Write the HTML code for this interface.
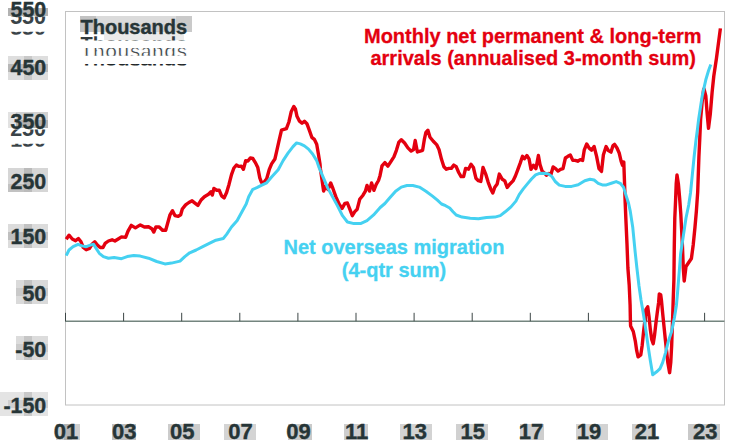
<!DOCTYPE html>
<html><head><meta charset="utf-8"><title>Net migration chart</title>
<style>
html,body{margin:0;padding:0;background:#fff;}
body{width:732px;height:445px;overflow:hidden;position:relative;font-family:"Liberation Sans",Arial,sans-serif;}
svg{position:absolute;left:0;top:0;display:block;}
text{font-family:"Liberation Sans",Arial,sans-serif;font-weight:bold;}
</style></head><body>
<svg width="732" height="445" viewBox="0 0 732 445">
<defs>
<clipPath id="c1"><rect x="0" y="16.6" width="60" height="7.6"/></clipPath>
<clipPath id="c2"><rect x="0" y="31.8" width="60" height="3"/></clipPath>
<clipPath id="c3"><rect x="0" y="129.4" width="60" height="7"/></clipPath>
<clipPath id="c4"><rect x="0" y="143.8" width="60" height="3"/></clipPath>
<clipPath id="t1"><rect x="70" y="36.3" width="130" height="4.3"/></clipPath>
<clipPath id="t2"><rect x="70" y="48" width="130" height="7.7"/></clipPath>
<clipPath id="t3"><rect x="70" y="63.9" width="130" height="1.7"/></clipPath>
</defs>
<rect x="0" y="0" width="732" height="445" fill="#fff"/>
<g opacity="0.8"><rect x="8" y="8" width="40" height="8" fill="#a0a0a0"/><rect x="8" y="56" width="40" height="24" fill="#d6d6d6"/><rect x="24" y="56" width="8" height="24" fill="#bcbcbc"/><rect x="8" y="64" width="40" height="8" fill="#a6a6a6"/><rect x="8" y="112" width="8" height="16" fill="#dcdcdc"/><rect x="16" y="112" width="32" height="8" fill="#c6c6c6"/><rect x="16" y="120" width="32" height="8" fill="#a0a0a0"/><rect x="8" y="168" width="40" height="24" fill="#cccccc"/><rect x="24" y="168" width="8" height="24" fill="#ababab"/><rect x="8" y="184" width="16" height="8" fill="#b4b4b4"/><rect x="8" y="224" width="40" height="24" fill="#d4d4d4"/><rect x="24" y="224" width="8" height="24" fill="#b4b4b4"/><rect x="8" y="232" width="40" height="8" fill="#b0b0b0"/><rect x="16" y="280" width="32" height="24" fill="#d2d2d2"/><rect x="24" y="280" width="8" height="24" fill="#b4b4b4"/><rect x="16" y="288" width="32" height="8" fill="#bcbcbc"/><rect x="16" y="336" width="32" height="24" fill="#d4d4d4"/><rect x="24" y="336" width="8" height="24" fill="#b8b8b8"/><rect x="16" y="344" width="32" height="8" fill="#c0c0c0"/><rect x="0" y="392" width="48" height="24" fill="#dedede"/><rect x="24" y="392" width="8" height="24" fill="#bcbcbc"/><rect x="8" y="400" width="40" height="8" fill="#c4c4c4"/><rect x="104" y="32" width="80" height="8" fill="#e6e6e6"/><rect x="80" y="16" width="112" height="16" fill="#d3d3d3"/><rect x="80" y="16" width="16" height="16" fill="#b4b4b4"/><rect x="176" y="16" width="16" height="16" fill="#bdbdbd"/><rect x="96" y="24" width="80" height="8" fill="#c4c4c4"/><rect x="56" y="424" width="24" height="16" fill="#c4c4c4"/><rect x="64" y="424" width="8" height="16" fill="#a2a2a2"/><rect x="112" y="424" width="24" height="16" fill="#b2b2b2"/><rect x="168" y="424" width="32" height="16" fill="#c0c0c0"/><rect x="224" y="424" width="32" height="16" fill="#cacaca"/><rect x="288" y="424" width="24" height="16" fill="#bdbdbd"/><rect x="344" y="424" width="24" height="16" fill="#c3c3c3"/><rect x="400" y="424" width="32" height="16" fill="#c9c9c9"/><rect x="456" y="424" width="32" height="16" fill="#c6c6c6"/><rect x="520" y="424" width="24" height="16" fill="#c3c3c3"/><rect x="576" y="424" width="32" height="16" fill="#c9c9c9"/><rect x="632" y="424" width="24" height="16" fill="#c3c3c3"/><rect x="688" y="424" width="32" height="16" fill="#bcbcbc"/></g>
<rect x="65.5" y="11.5" width="659" height="393.5" fill="none" stroke="#c2c2c2" stroke-width="1"/>
<line x1="65" y1="321.2" x2="724.5" y2="321.2" stroke="#74857f" stroke-width="1.5"/>
<g stroke="#3c4646" stroke-width="1"><line x1="65.5" y1="312.8" x2="65.5" y2="321.2"/><line x1="123.6" y1="312.8" x2="123.6" y2="321.2"/><line x1="181.7" y1="312.8" x2="181.7" y2="321.2"/><line x1="239.8" y1="312.8" x2="239.8" y2="321.2"/><line x1="297.9" y1="312.8" x2="297.9" y2="321.2"/><line x1="356.0" y1="312.8" x2="356.0" y2="321.2"/><line x1="414.1" y1="312.8" x2="414.1" y2="321.2"/><line x1="472.2" y1="312.8" x2="472.2" y2="321.2"/><line x1="530.3" y1="312.8" x2="530.3" y2="321.2"/><line x1="588.4" y1="312.8" x2="588.4" y2="321.2"/><line x1="646.5" y1="312.8" x2="646.5" y2="321.2"/><line x1="704.6" y1="312.8" x2="704.6" y2="321.2"/></g>
<polyline fill="none" stroke="#e4000f" stroke-width="3.4" stroke-linejoin="round" stroke-linecap="butt" points="66.2,239.3 69.0,235.2 72.3,239.0 75.6,240.7 78.4,238.5 81.0,241.8 83.3,247.5 86.2,249.7 89.5,248.4 92.0,244.3 94.8,241.8 97.4,245.1 100.2,247.5 103.0,247.5 105.1,243.4 108.4,241.0 112.1,239.8 114.9,241.0 118.2,239.0 121.5,236.9 125.6,237.4 128.0,231.1 131.3,225.4 135.4,227.9 140.3,224.9 144.4,227.0 148.5,226.7 151.8,228.7 153.8,232.0 155.9,227.0 159.2,227.0 162.5,230.3 165.7,230.3 168.2,221.3 170.0,214.8 172.5,210.7 174.9,215.6 178.2,216.4 180.7,214.8 182.3,209.0 185.6,204.9 188.9,202.5 192.1,200.8 194.6,202.8 197.9,205.4 201.1,200.0 204.4,196.7 208.5,194.3 211.0,191.8 212.3,195.1 213.9,188.5 216.7,190.2 219.2,190.2 221.6,195.9 224.1,197.9 226.6,192.6 229.0,184.4 231.5,174.6 233.9,168.0 236.4,165.1 238.9,166.4 241.3,166.1 243.4,169.3 245.7,160.7 247.9,161.1 250.3,157.9 252.8,158.5 255.2,162.3 257.7,167.2 259.8,177.9 261.5,182.5 263.8,182.5 266.7,178.7 269.2,169.7 271.6,163.9 274.9,159.0 276.6,151.6 279.0,140.9 281.5,130.2 283.9,129.4 286.4,128.6 288.9,122.0 291.3,111.4 293.8,106.5 295.4,108.9 297.0,116.3 299.5,121.2 302.0,123.2 304.4,121.2 306.9,123.7 309.3,130.2 311.8,137.3 314.3,139.3 316.7,144.2 318.4,154.0 320.0,163.9 320.3,168.2 322.0,179.7 323.6,191.1 325.7,186.2 328.0,189.5 330.7,183.0 333.0,188.7 335.9,196.9 339.2,204.3 342.1,208.4 344.9,203.4 347.4,203.0 349.8,209.2 352.3,215.7 354.8,211.6 357.2,209.2 359.7,199.3 363.0,195.2 365.4,191.1 367.0,185.4 369.5,191.1 371.6,183.0 373.9,190.3 376.1,184.6 378.5,180.5 380.0,175.7 382.0,165.9 384.9,162.6 387.9,166.2 390.7,161.8 393.9,156.9 396.4,150.3 398.9,142.1 401.3,139.7 404.6,143.0 407.9,147.9 411.1,151.1 413.6,149.5 415.2,140.5 417.4,152.0 420.2,151.1 422.6,150.3 424.3,139.7 425.9,132.3 427.9,130.2 430.0,137.2 433.3,141.3 436.6,144.6 439.0,149.5 441.5,159.3 443.9,166.7 446.4,169.2 448.9,168.4 451.3,168.4 453.8,165.1 456.2,166.7 458.7,172.5 461.1,176.6 463.6,176.6 465.6,168.4 468.5,169.2 471.0,164.3 473.4,167.5 475.9,178.2 478.4,180.7 480.8,181.5 483.0,167.5 485.7,174.1 488.2,182.3 490.7,188.9 492.8,193.0 494.8,187.2 497.2,183.9 499.3,174.1 502.3,179.3 504.8,180.9 507.2,187.5 509.7,184.2 513.0,180.9 515.4,176.0 517.9,169.4 520.3,162.9 522.5,156.3 524.4,158.8 526.9,155.5 529.0,158.8 531.0,169.4 533.4,165.3 535.9,168.6 538.4,155.5 540.0,164.5 542.1,171.1 544.4,173.0 546.6,175.2 549.0,173.5 551.0,174.3 553.1,167.0 555.6,168.6 558.0,171.1 560.5,169.4 563.0,168.6 565.4,158.0 567.9,156.3 570.3,155.0 572.8,160.4 575.2,160.4 577.7,161.2 580.2,159.6 582.6,160.4 584.3,149.8 586.7,144.0 589.2,148.1 591.6,150.1 594.1,146.5 596.6,156.3 599.0,168.6 601.5,171.4 603.4,154.7 606.1,146.5 608.4,150.6 611.0,152.1 613.0,145.6 614.6,144.4 617.0,148.0 619.2,153.0 621.1,161.1 622.5,165.2 623.8,162.0 624.4,179.2 625.2,203.0 625.9,219.6 627.0,244.2 627.9,268.0 629.2,285.0 630.1,305.0 630.4,321.0 630.6,326.0 633.3,331.5 635.3,341.1 636.7,350.7 638.1,356.8 640.8,354.8 642.2,345.2 643.6,331.5 644.9,320.5 645.9,309.6 647.7,306.8 649.0,316.4 650.4,330.1 651.8,339.7 653.2,343.8 654.5,335.6 655.9,323.3 657.3,312.3 658.6,302.7 659.3,294.0 660.7,294.7 661.4,300.0 662.7,313.7 664.1,327.4 665.5,341.1 666.6,351.0 667.8,362.4 669.6,372.7 670.8,362.0 671.7,345.0 672.5,322.0 673.2,300.0 673.9,280.0 674.3,245.0 674.8,218.0 675.6,200.0 676.2,184.0 677.0,175.0 678.4,184.0 679.7,199.0 680.8,214.0 682.4,245.0 683.3,268.3 684.2,281.0 686.0,266.5 691.4,258.5 693.2,245.0 695.0,227.0 696.4,210.8 697.7,192.0 698.9,157.0 699.8,138.0 700.6,119.4 702.2,101.4 703.6,89.7 704.0,88.8 705.8,96.0 707.2,114.0 708.5,128.3 710.3,114.0 712.1,92.4 713.8,76.0 716.5,58.0 720.4,28.4"/>
<polyline fill="none" stroke="#45d1f1" stroke-width="3" stroke-linejoin="round" stroke-linecap="butt" points="66.2,255.7 69.0,250.0 73.1,246.7 78.0,244.3 82.1,245.9 86.2,246.7 90.3,245.1 93.6,244.3 96.1,248.4 99.3,253.3 103.4,256.6 108.4,258.2 114.1,257.4 121.5,258.7 127.2,256.6 133.8,255.4 140.3,256.1 148.5,258.2 156.7,261.5 164.9,263.9 171.5,263.1 180.0,261.1 184.8,256.6 189.7,252.8 196.2,250.0 202.8,246.7 209.3,243.4 215.9,240.2 223.3,238.5 226.6,234.4 231.5,227.0 237.2,220.5 242.1,211.5 246.2,204.1 248.7,196.7 252.8,189.3 256.9,187.7 261.8,185.2 266.7,182.8 271.6,177.0 278.2,169.7 283.1,160.6 288.0,153.2 293.0,146.6 296.6,142.9 300.3,143.9 304.4,145.8 308.5,149.1 312.6,154.0 316.7,160.6 318.7,166.6 322.8,176.4 327.7,187.9 332.6,196.9 337.5,205.9 342.5,215.7 347.4,222.0 353.9,223.6 360.5,223.6 367.0,220.7 373.6,214.9 380.2,207.5 384.9,203.5 389.8,197.8 395.6,191.2 401.3,187.1 407.0,185.5 412.8,185.5 419.3,187.1 425.9,191.2 432.5,196.1 437.4,200.2 441.5,204.0 445.6,205.7 449.7,208.0 453.0,211.7 456.2,215.0 462.0,217.1 470.2,218.3 478.4,218.8 486.6,217.5 494.8,217.1 500.3,215.6 505.2,211.8 511.0,206.9 515.9,201.1 519.2,194.6 523.3,188.9 527.4,183.9 531.5,179.0 535.6,174.9 538.9,173.6 543.8,173.3 548.7,174.1 552.0,176.6 555.2,181.5 559.3,185.1 565.1,186.4 571.6,186.4 578.2,184.8 584.8,180.7 590.0,179.2 594.1,180.0 598.2,183.3 602.3,184.9 606.4,184.9 611.3,183.3 616.2,181.6 620.3,183.3 623.6,187.4 626.1,195.6 628.5,203.0 630.3,211.4 632.8,227.8 635.2,252.4 636.9,268.0 639.0,286.0 641.0,300.0 642.9,311.0 644.9,323.3 647.0,338.4 648.7,350.0 650.4,361.0 652.7,374.7 657.3,371.3 660.0,368.6 662.7,362.4 665.5,352.8 668.2,341.8 671.6,331.5 674.4,317.8 676.4,305.5 677.6,292.0 679.2,272.0 680.6,254.0 683.3,236.0 686.0,218.0 688.7,205.0 690.5,193.0 692.3,175.0 694.1,157.0 695.9,140.8 697.6,128.0 698.6,119.4 702.2,96.0 705.8,79.8 708.5,70.8 710.8,64.5"/>
<g fill="#263537" stroke="#263537" stroke-width="0.4" font-size="22px"><text transform="translate(46.2,17.0) scale(0.972,1)" text-anchor="end">550</text><text transform="translate(46.2,75.2) scale(0.972,1)" text-anchor="end">450</text><text transform="translate(46.2,129.3) scale(0.972,1)" text-anchor="end">350</text><text transform="translate(46.2,188.7) scale(0.972,1)" text-anchor="end">250</text><text transform="translate(46.2,244.0) scale(0.972,1)" text-anchor="end">150</text><text transform="translate(46.2,300.9) scale(0.972,1)" text-anchor="end">50</text><text transform="translate(46.2,357.2) scale(0.972,1)" text-anchor="end">-50</text><text transform="translate(46.2,413.2) scale(0.972,1)" text-anchor="end">-150</text></g>
<g fill="#3a4448" font-size="21.5px" text-anchor="end">
<text x="46" y="24.2" clip-path="url(#c1)">550</text>
<text x="46" y="34.7" clip-path="url(#c2)">550</text>
<text x="46" y="136.3" clip-path="url(#c3)">250</text>
<text x="46" y="146.7" clip-path="url(#c4)">150</text>
</g>
<g fill="#263537" stroke="#263537" stroke-width="0.4" font-size="22px"><text x="66.1" y="438.9" text-anchor="middle">01</text><text x="124.2" y="438.9" text-anchor="middle">03</text><text x="182.3" y="438.9" text-anchor="middle">05</text><text x="240.4" y="438.9" text-anchor="middle">07</text><text x="298.5" y="438.9" text-anchor="middle">09</text><text x="356.6" y="438.9" text-anchor="middle">11</text><text x="414.7" y="438.9" text-anchor="middle">13</text><text x="472.8" y="438.9" text-anchor="middle">15</text><text x="530.9" y="438.9" text-anchor="middle">17</text><text x="589.0" y="438.9" text-anchor="middle">19</text><text x="647.1" y="438.9" text-anchor="middle">21</text><text x="705.2" y="438.9" text-anchor="middle">23</text></g>
<text transform="translate(80.5,34.1) scale(0.952,1)" font-size="21px" fill="#263537" stroke="#263537" stroke-width="0.4">Thousands</text>
<g font-size="20px">
<text x="80.6" y="50.7" fill="#333c3e" clip-path="url(#t1)">Thousands</text>
<text x="80.6" y="58" fill="#434b4e" stroke="#fff" stroke-width="1.0" clip-path="url(#t2)">Thousands</text>
<text x="80.6" y="65.5" fill="#1f2628" clip-path="url(#t3)">Thousands</text>
</g>
<g fill="#e4000f" stroke="#e4000f" stroke-width="0.3" font-size="21px" text-anchor="middle">
<text transform="translate(532.8,42.9) scale(0.952,1)">Monthly net permanent &amp; long-term</text>
<text transform="translate(533.2,64.7) scale(0.952,1)">arrivals (annualised 3-month sum)</text>
</g>
<g fill="#45d1f1" stroke="#45d1f1" stroke-width="0.3" font-size="21px" text-anchor="middle">
<text transform="translate(394,253.8) scale(0.952,1)">Net overseas migration</text>
<text transform="translate(394,276.7) scale(0.952,1)">(4-qtr sum)</text>
</g>
</svg>
</body></html>
